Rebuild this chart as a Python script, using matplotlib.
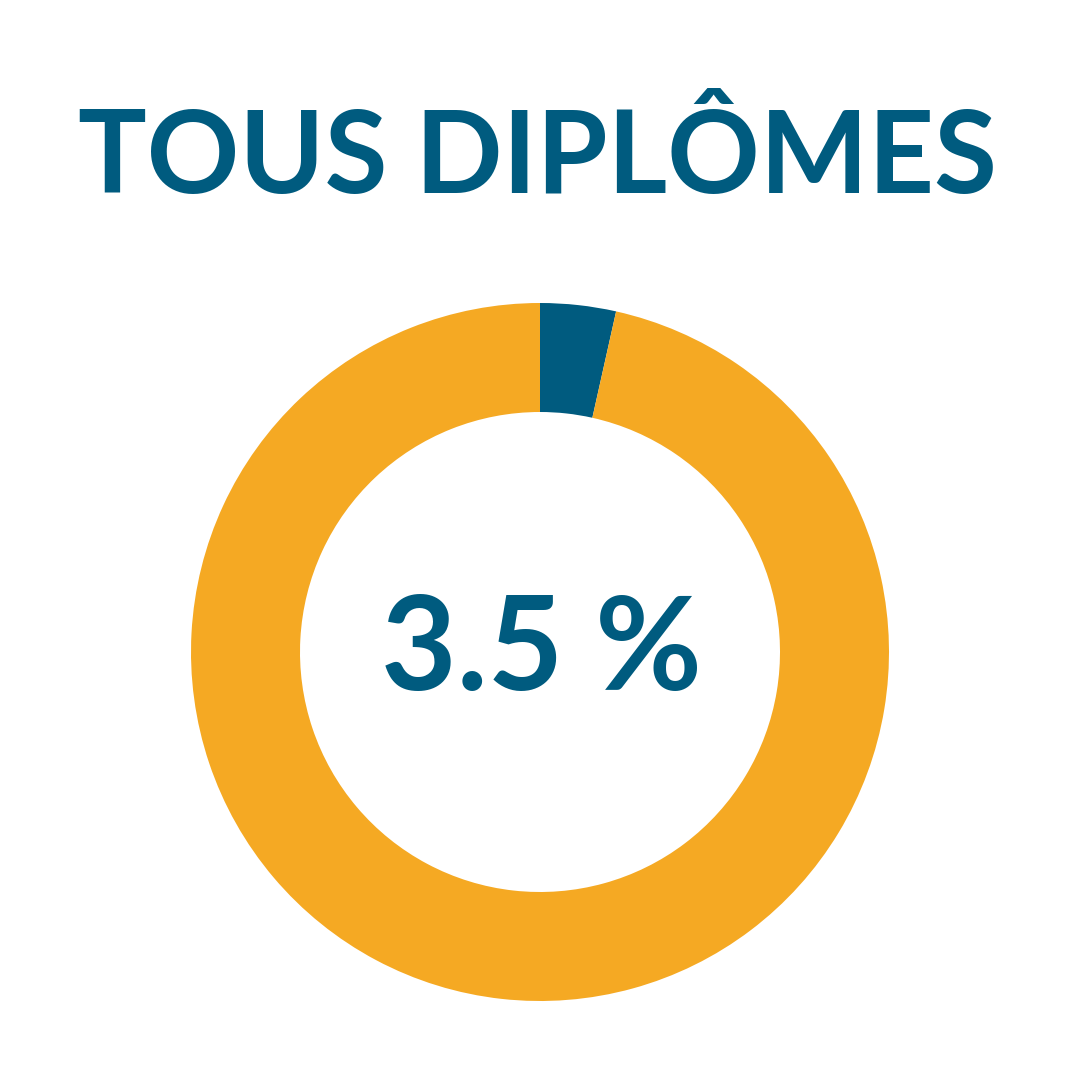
import numpy as np
import matplotlib
matplotlib.use('Agg')
import matplotlib.pyplot as plt

title = 'TOUS DIPLÔMES'
share = 3.5
values = [share, 100 - share]
colors = ['#005B7F', '#F5A923']

fig = plt.figure(figsize=(10.8, 10.8), dpi=100)
fig.patch.set_facecolor('white')

# donut: outer radius ~349 px, centre at (540, 652) from the top
size = 698 / 1080
ax = fig.add_axes([(540 - 349) / 1080, (1080 - 652 - 349) / 1080, size, size])
ax.pie(values, colors=colors, startangle=90, counterclock=False,
       radius=1, wedgeprops=dict(width=109 / 349, linewidth=0))
ax.set_xlim(-1, 1)
ax.set_ylim(-1, 1)
ax.set_aspect('equal')
ax.axis('off')

# centre label, baseline ~690 px from top
fig.text(0.5 + 1.5 / 1080, 1 - 690 / 1080, f'{share} %', ha='center', va='baseline',
         color=colors[0], fontsize=94, fontweight='bold', family='Lato')

# title, baseline ~193 px from top
fig.text(0.5 - 2 / 1080, 1 - 193 / 1080, title, ha='center', va='baseline',
         color=colors[0], fontsize=82.5, fontweight='bold', family='Lato')

fig.savefig('out.png', dpi=100, facecolor='white')
